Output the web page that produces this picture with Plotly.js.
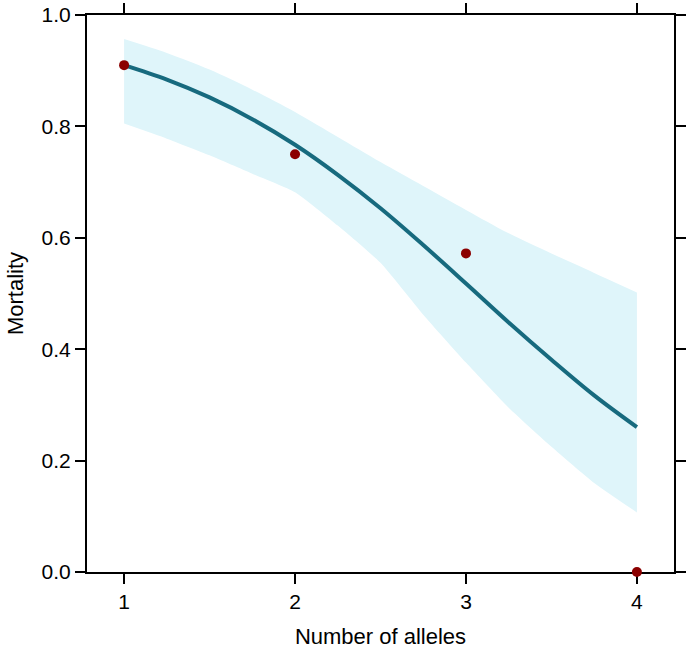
<!DOCTYPE html>
<html>
<head>
<meta charset="utf-8">
<script src="https://cdn.plot.ly/plotly-3.0.1.min.js"></script>
<style>html,body{margin:0;padding:0;background:#fff;}#chart{width:689px;height:649px;}</style>
</head>
<body>
<div id="chart"></div>
<script>
// Observed mortality by number of alleles
const alleles = [1, 2, 3, 4];
const mortality = [0.910, 0.750, 0.572, 0.000];

// Fitted curve
const fitX = [1, 1.25, 1.5, 1.75, 2, 2.25, 2.5, 2.75, 3, 3.25, 3.5, 3.75, 4];
const fitY = [0.910, 0.884, 0.852, 0.813, 0.767, 0.713, 0.653, 0.587, 0.518, 0.448, 0.381, 0.317, 0.260];

// Confidence band edges
const bandX = [1, 1.25, 1.5, 1.75, 2, 2.25, 2.5, 2.75, 3, 3.25, 3.5, 3.75, 4];
const bandUpper = [0.957, 0.932, 0.902, 0.866, 0.826, 0.781, 0.736, 0.693, 0.650, 0.608, 0.572, 0.537, 0.502];
const bandLower = [0.805, 0.778, 0.748, 0.715, 0.682, 0.622, 0.555, 0.462, 0.376, 0.295, 0.225, 0.160, 0.107];

const xTicks = [1, 2, 3, 4];
const yTicks = [0.0, 0.2, 0.4, 0.6, 0.8, 1.0];
const yTickText = ['0.0', '0.2', '0.4', '0.6', '0.8', '1.0'];

const fontFam = 'Liberation Sans, Arial, Helvetica, sans-serif';

const traces = [
  {x: bandX, y: bandUpper, type: 'scatter', mode: 'lines', line: {width: 0, color: 'rgba(0,0,0,0)', shape: 'spline', smoothing: 0.8}, hoverinfo: 'skip', showlegend: false},
  {x: bandX, y: bandLower, type: 'scatter', mode: 'lines', line: {width: 0, color: 'rgba(0,0,0,0)', shape: 'spline', smoothing: 0.5}, fill: 'tonexty', fillcolor: '#dff5fa', hoverinfo: 'skip', showlegend: false},
  {x: fitX, y: fitY, type: 'scatter', mode: 'lines', line: {color: '#176a7e', width: 4, shape: 'spline', smoothing: 1}, showlegend: false},
  {x: alleles, y: mortality, type: 'scatter', mode: 'markers', marker: {color: '#8b0000', size: 10}, cliponaxis: false, showlegend: false}
];

const axisCommon = {
  showline: true, linecolor: '#000', linewidth: 2,
  ticks: 'outside', ticklen: 10, tickwidth: 2, tickcolor: '#000',
  mirror: 'ticks', showgrid: false, zeroline: false,
  tickfont: {family: fontFam, size: 21, color: '#000'},
  layer: 'below traces'
};

const layout = {
  width: 689, height: 649,
  margin: {l: 87, r: 15, t: 15, b: 77},
  paper_bgcolor: '#fff', plot_bgcolor: '#fff',
  xaxis: Object.assign({}, axisCommon, {
    range: [0.783, 4.217], tickvals: xTicks, ticktext: xTicks.map(String),
    title: {text: 'Number of alleles', font: {family: fontFam, size: 22, color: '#000'}, standoff: 16}
  }),
  yaxis: Object.assign({}, axisCommon, {
    range: [0, 1], tickvals: yTicks, ticktext: yTickText,
    title: {text: 'Mortality', font: {family: fontFam, size: 22, color: '#000'}, standoff: 12}
  }),
  showlegend: false
};

Plotly.newPlot('chart', traces, layout, {displayModeBar: false, staticPlot: true});
</script>
</body>
</html>
